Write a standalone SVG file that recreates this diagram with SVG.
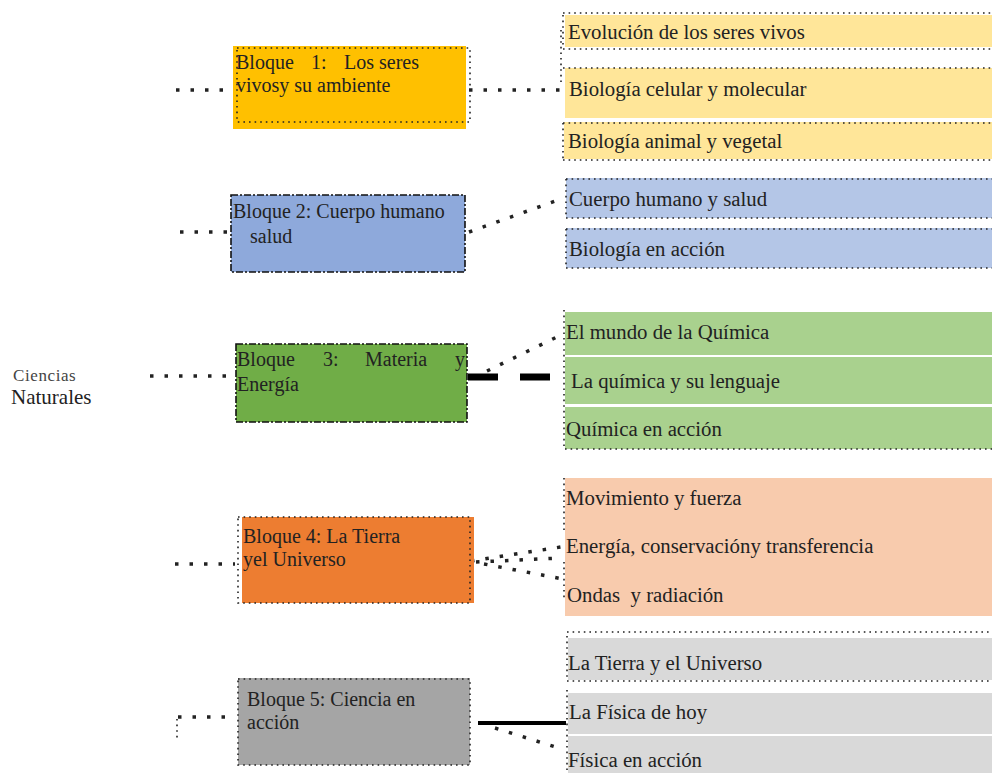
<svg xmlns="http://www.w3.org/2000/svg" width="992" height="773" viewBox="0 0 992 773">
<style>
text{font-family:"Liberation Serif","Times New Roman","DejaVu Serif",serif;font-size:20px;fill:#222}
.s{font-size:20.8px}
.dot{fill:none;stroke:#222;stroke-width:1.6;stroke-dasharray:1.6 4}
.dashdot{fill:none;stroke:#111;stroke-width:1.6;stroke-dasharray:7 2 2 2}
.conn{fill:none;stroke:#222;stroke-width:3.5;stroke-dasharray:3.5 11}
.thick{fill:none;stroke:#000}
</style>
<rect width="992" height="773" fill="#fff"/>
<g id="root">
<text x="13" y="381" style="font-size:17px;letter-spacing:0.6px;fill:#444">Ciencias</text>
<text x="11" y="404" style="font-size:21px">Naturales</text>
</g>
<g id="connectors">
<path class="conn" d="M176 90H230"/>
<path class="conn" d="M469 90H562"/>
<path class="dot" d="M561 30V82"/>
<path class="conn" d="M180 232H228"/>
<path class="conn" d="M469 232L561 199"/>
<path class="conn" d="M150 376H232"/>
<path class="thick" stroke-width="7" d="M468 377H498M520 377H550"/>
<path class="conn" d="M487 371L561 335"/>
<path class="conn" d="M175 564H235"/>
<path class="conn" d="M471 561L561 547"/>
<path class="conn" d="M476 562L561 558"/>
<path class="conn" d="M484 564L563 579"/>
<path class="conn" d="M178 717H232"/>
<path class="dot" d="M177 719V738"/>
<path class="thick" stroke-width="4" d="M478 723H566"/>
<path class="conn" d="M495 728L562 749"/>
</g>
<g id="bloque1">
<rect x="233" y="46" width="233" height="83" fill="#FFC000"/>
<path class="dot" d="M237 48H470V122H237Z"/>
<text x="236" y="69">Bloque</text>
<text x="311" y="69">1:</text>
<text x="344" y="69">Los seres</text>
<text x="236" y="92">vivosy su ambiente</text>
</g>
<g id="sub1">
<rect x="565" y="15" width="427" height="32" fill="#FFE699"/>
<path class="dot" d="M563 13H992M563 49H992M563 15V48"/>
<text class="s" x="568" y="39">Evolución de los seres vivos</text>
<rect x="565" y="68" width="427" height="50" fill="#FFE699"/>
<path class="dot" d="M563 68H992"/>
<text class="s" x="569" y="96">Biología celular y molecular</text>
<rect x="564" y="122" width="428" height="37" fill="#FFE699"/>
<path class="dot" d="M563 123H992M563 160H992M563 123V160"/>
<text class="s" x="568" y="148">Biología animal y vegetal</text>
</g>
<g id="bloque2">
<rect x="231" y="195" width="234" height="77" fill="#8EA9DB"/>
<rect class="dashdot" x="231" y="195" width="234" height="77"/>
<text x="233" y="218">Bloque 2: Cuerpo humano</text>
<text x="250" y="243">salud</text>
</g>
<g id="bloque3">
<rect x="236" y="344" width="231" height="78" fill="#70AD47"/>
<rect class="dashdot" x="236" y="344" width="231" height="78"/>
<text x="237" y="366">Bloque</text>
<text x="323" y="366">3:</text>
<text x="365" y="366">Materia</text>
<text x="455" y="366">y</text>
<text x="237" y="391">Energía</text>
</g>
<g id="sub2">
<rect x="566" y="178" width="426" height="40" fill="#B4C6E7"/>
<path class="dot" d="M566 179H992M566 218H992M566 179V218"/>
<text class="s" x="569" y="206">Cuerpo humano y salud</text>
<rect x="566" y="228" width="426" height="40" fill="#B4C6E7"/>
<path class="dot" d="M566 229H992M566 268H992M566 229V268"/>
<text class="s" x="569" y="256">Biología en acción</text>
</g>
<g id="sub3">
<rect x="565" y="312" width="427" height="43" fill="#A9D18E"/>
<rect x="565" y="357" width="427" height="47" fill="#A9D18E"/>
<rect x="565" y="407" width="427" height="42" fill="#A9D18E"/>
<path class="dot" d="M564 310V450M565 449H992"/>
<text class="s" x="566" y="339">El mundo de la Química</text>
<text class="s" x="571" y="388">La química y su lenguaje</text>
<text class="s" x="566" y="436">Química en acción</text>
</g>
<g id="bloque4">
<rect x="242" y="517" width="232" height="86" fill="#ED7D31"/>
<path class="dot" d="M238 517H470V603H238Z"/>
<text x="243" y="543">Bloque 4: La Tierra</text>
<text x="243" y="566">yel Universo</text>
</g>
<g id="sub4">
<rect x="565" y="478" width="427" height="138" fill="#F8CBAD"/>
<path class="dot" d="M564 478V530M564 562V600"/>
<text class="s" x="566" y="505">Movimiento y fuerza</text>
<text class="s" x="566" y="553">Energía, conservacióny transferencia</text>
<text class="s" x="567" y="602" xml:space="preserve">Ondas  y radiación</text>
</g>
<g id="bloque5">
<rect x="238" y="678" width="232" height="87" fill="#A5A5A5"/>
<path class="dot" d="M238 679H470V765H238Z"/>
<text x="247" y="706">Bloque 5: Ciencia en</text>
<text x="247" y="729">acción</text>
</g>
<g id="sub5">
<rect x="568" y="638" width="424" height="42" fill="#D9D9D9"/>
<path class="dot" d="M567 632H992M567 681H992M567 636V680"/>
<text class="s" x="568" y="670">La Tierra y el Universo</text>
<rect x="568" y="693" width="424" height="41" fill="#D9D9D9"/>
<text class="s" x="569" y="719">La Física de hoy</text>
<rect x="568" y="736" width="424" height="37" fill="#D9D9D9"/>
<path class="dot" d="M567 690V773"/>
<text class="s" x="568" y="767">Física en acción</text>
</g>
</svg>
